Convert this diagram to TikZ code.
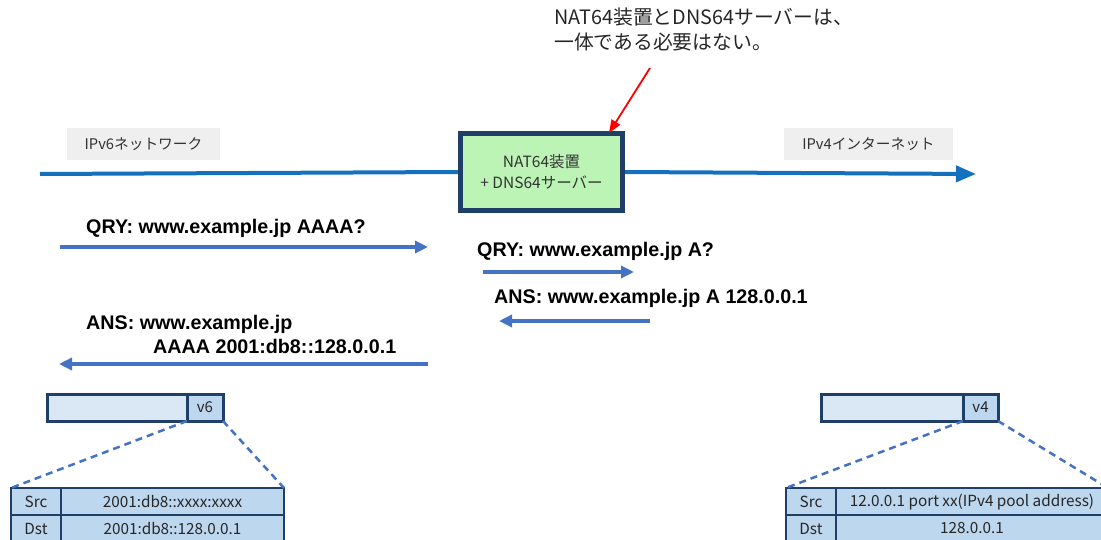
\documentclass[tikz,border=0pt]{standalone}
\usepackage{fontspec}
\setmainfont{Noto Sans CJK JP}
\newfontfamily\msgfont{Liberation Sans}
\usepackage{tikz}
\usetikzlibrary{positioning, arrows.meta}

\definecolor{netblue}{HTML}{1570BD}
\definecolor{msgblue}{HTML}{4472C4}
\definecolor{boxnavy}{HTML}{1F3F66}
\definecolor{boxgreen}{HTML}{BCF4B6}
\definecolor{pktlight}{HTML}{DAE8F5}
\definecolor{pktdark}{HTML}{BDD7EE}
\definecolor{labelgray}{HTML}{EFEFEF}

\tikzset{
	netline/.style={netblue, line width=4pt},
	msgline/.style={msgblue, line width=3.5pt, -{Triangle[length=13pt, width=12pt]}},
	msgtext/.style={anchor=west, inner sep=0pt, font=\msgfont\bfseries\fontsize{19.7}{22}\selectfont},
	netlabel/.style={fill=labelgray, minimum width=153pt, minimum height=32pt, inner sep=0pt, font=\fontsize{14.7}{16}\selectfont, text=black!80},
	gearbox/.style={draw=boxnavy, fill=boxgreen, line width=5pt, minimum width=162pt, minimum height=77pt, align=center, font=\fontsize{15.5}{21}\selectfont, text=black!80},
	pktcell/.style={draw=boxnavy, line width=3pt, outer sep=0pt, minimum height=27pt, inner sep=0pt, anchor=west, font=\fontsize{15}{17}\selectfont, text=black!85},
	tabcell/.style={draw=boxnavy, fill=pktdark, line width=2.5pt, outer sep=0pt, minimum height=27pt, inner sep=0pt, anchor=north west, font=\fontsize{15.3}{17}\selectfont, text=black!85},
	zoomline/.style={msgblue, line width=2.5pt, dash pattern=on 7pt off 5pt},
}

\begin{document}
\begin{tikzpicture}[x=1pt, y=-1pt]
	\useasboundingbox (0,0) rectangle (1101,540);
	\clip (0,0) rectangle (1101,540);

	% network line and translator
	\coordinate (v6end) at (40,174);
	\coordinate (v4end) at (976,174);
	\node[gearbox] (nat) at (541.5,172) {NAT64装置\\+ DNS64サーバー};
	\draw[netline] (v6end) -- (nat.west);
	\draw[netline, -{Triangle[length=20pt, width=16pt]}] (nat.east) -- (v4end);

	\node[netlabel] (v6label) at (143.5,144) {IPv6ネットワーク};
	\node[netlabel, minimum width=169pt] (v4label) at (868.5,144) {IPv4インターネット};

	% note
	\node[anchor=north west, inner sep=0pt, align=left, font=\fontsize{19.8}{25}\selectfont, text=black!85] (note) at (554,8)
		{NAT64装置とDNS64サーバーは、\\一体である必要はない。};
	\coordinate (notetail) at (650,68);
	\draw[red, line width=1.8pt, -{Triangle[length=13pt, width=10pt]}] (notetail) -- ([xshift=-16pt, yshift=-2pt]nat.north east);

	% DNS messages
	\begin{scope}
		\node[msgtext] (qry6) at (86,228) {QRY: www.example.jp AAAA?};
		\coordinate (qry6a) at (60,247);
		\coordinate (qry6b) at (428,247);
		\draw[msgline] (qry6a) -- (qry6b);

		\node[msgtext] (qry4) at (477,251) {QRY: www.example.jp A?};
		\coordinate (qry4a) at (483,272);
		\coordinate (qry4b) at (634,272);
		\draw[msgline] (qry4a) -- (qry4b);

		\node[msgtext] (ans4) at (494,298) {ANS: www.example.jp A 128.0.0.1};
		\coordinate (ans4a) at (650,321);
		\coordinate (ans4b) at (499,321);
		\draw[msgline] (ans4a) -- (ans4b);

		\node[msgtext] (ans6) at (86,324) {ANS: www.example.jp};
		\node[msgtext] (ans6b) at (153,346) {AAAA 2001:db8::128.0.0.1};
		\coordinate (ans6a) at (428,364);
		\coordinate (ans6end) at (59,364);
		\draw[msgline] (ans6a) -- (ans6end);
	\end{scope}

	% IPv6 packet
	\begin{scope}
		\node[pktcell, fill=pktlight, minimum width=140pt] (v6body) at (47,407.5) {};
		\node[pktcell, fill=pktdark, minimum width=36pt] (v6tag) at (v6body.east) {v6};
		\node[tabcell, minimum width=50pt] (v6src) at (11,488) {Src};
		\node[tabcell, minimum width=223pt] (v6srcval) at (v6src.north east) {2001:db8::xxxx:xxxx};
		\node[tabcell, minimum width=50pt] (v6dst) at (v6src.south west) {Dst};
		\node[tabcell, minimum width=223pt] (v6dstval) at (v6dst.north east) {2001:db8::128.0.0.1};
		\draw[zoomline] (v6tag.south west) -- (v6src.north west);
		\draw[zoomline] (v6tag.south east) -- (v6srcval.north east);
	\end{scope}

	% IPv4 packet
	\begin{scope}
		\node[pktcell, fill=pktlight, minimum width=142pt] (v4body) at (821,407.5) {};
		\node[pktcell, fill=pktdark, minimum width=35pt] (v4tag) at (v4body.east) {v4};
		\node[tabcell, minimum width=50pt] (v4src) at (786,488) {Src};
		\node[tabcell, minimum width=272pt] (v4srcval) at (v4src.north east) {12.0.0.1 port xx(IPv4 pool address)};
		\node[tabcell, minimum width=50pt] (v4dst) at (v4src.south west) {Dst};
		\node[tabcell, minimum width=272pt] (v4dstval) at (v4dst.north east) {128.0.0.1};
		\draw[zoomline] (v4tag.south west) -- (v4src.north west);
		\draw[zoomline] (v4tag.south east) -- (v4srcval.north east);
	\end{scope}
\end{tikzpicture}
\end{document}
